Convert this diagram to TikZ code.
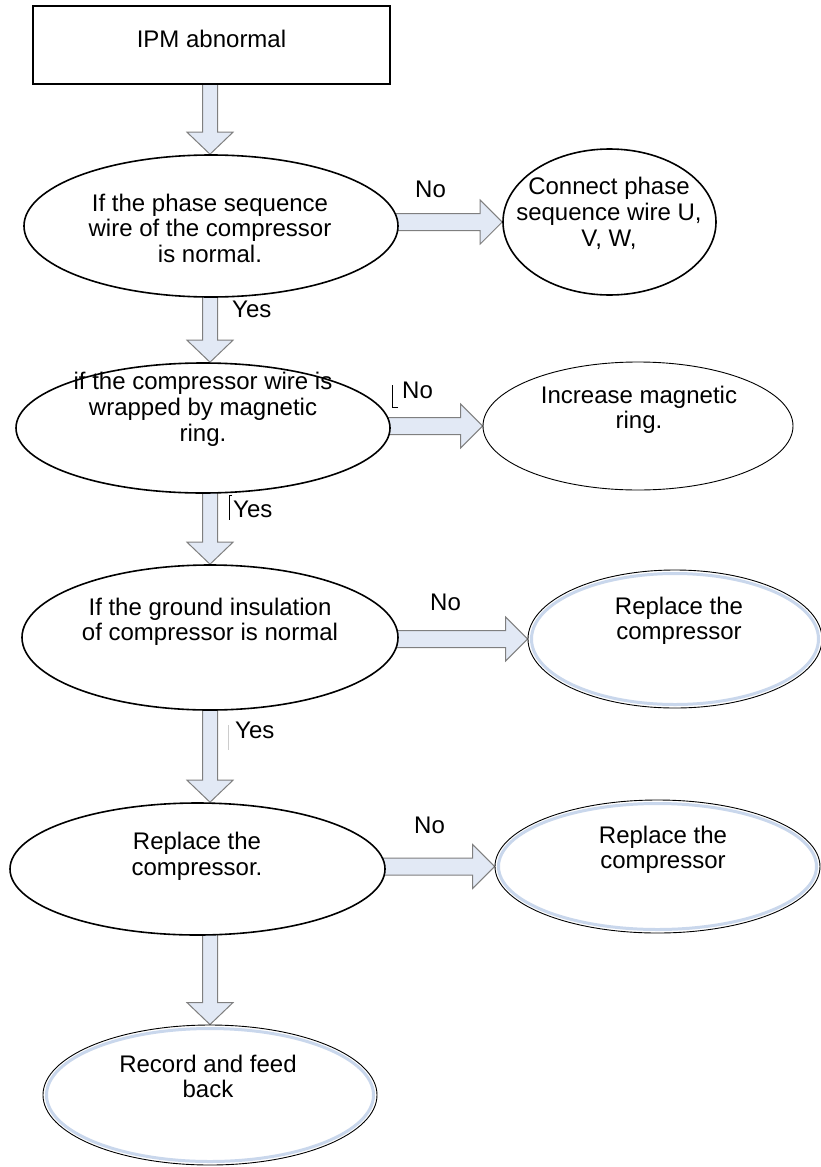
\documentclass[tikz,border=0pt]{standalone}
\usepackage{fontspec}
\setmainfont{Liberation Sans}
\usetikzlibrary{shapes.geometric,calc}
\definecolor{arrowfill}{HTML}{E2E9F5}
\definecolor{arrowline}{HTML}{7F7F7F}
\definecolor{ringblue}{HTML}{C9D7EC}
\pgfdeclarelayer{bg}
\pgfsetlayers{bg,main}
\tikzset{
 ovalthick/.style={ellipse, draw=black, line width=1.6pt, fill=white, inner sep=0pt},
 ovalthin/.style={ellipse, draw=black, line width=0.9pt, fill=white, inner sep=0pt},
 startbox/.style={rectangle, draw=black, line width=1.6pt, fill=white, inner sep=0pt},
 txt/.style={font=\fontsize{24}{25.6}\selectfont, align=center, inner sep=0pt, anchor=base},
 lbl/.style={font=\fontsize{24}{25.6}\selectfont, inner sep=0pt, anchor=base west},
 barrow/.style={draw=arrowline, fill=arrowfill, line width=1pt, line join=miter},
 ring/.style={draw=ringblue, line width=3pt},
 cursor/.style={line width=0.8pt, draw=black},
 faintbar/.style={line width=0.8pt, draw=black!20}
}
% vertical block arrow: x position, source node, target node
\newcommand{\vbarrow}[3]{%
 \begin{pgfonlayer}{bg}
 \path[barrow] let \p1=(#2.south), \p2=(#3.north), \p3=(#1,0) in
  (\x3-7.5pt,\y1+4pt) -- (\x3-7.5pt,\y2+22pt) -- (\x3-23pt,\y2+22pt) -- (\x3,\y2)
  -- (\x3+23pt,\y2+22pt) -- (\x3+7.5pt,\y2+22pt) -- (\x3+7.5pt,\y1+4pt) -- cycle;
 \end{pgfonlayer}}
% horizontal block arrow: source node, target node
\newcommand{\hbarrow}[2]{%
 \begin{pgfonlayer}{bg}
 \path[barrow] let \p1=(#1.east), \p2=(#2.west) in
  (\x1-8pt,\y2+8.5pt) -- (\x2-22pt,\y2+8.5pt) -- (\x2-22pt,\y2+22pt) -- (\x2,\y2)
  -- (\x2-22pt,\y2-22pt) -- (\x2-22pt,\y2-8.5pt) -- (\x1-8pt,\y2-8.5pt) -- cycle;
 \end{pgfonlayer}}
\begin{document}
\begin{tikzpicture}[x=1pt,y=-1pt]
\useasboundingbox (0,0) rectangle (821,1167);

% shapes
\node[startbox, minimum width=357, minimum height=78] (box) at (211.5,45) {};
\node[ovalthick, minimum width=374, minimum height=142] (e1) at (211,226) {};
\node[ovalthick, minimum width=213, minimum height=146] (e2) at (609.5,222) {};
\node[ovalthick, minimum width=374, minimum height=130] (e3) at (203,428) {};
\node[ovalthin, minimum width=310, minimum height=128] (e4) at (638,426) {};
\node[ovalthick, minimum width=376, minimum height=145] (e5) at (210,637.5) {};
\node[ovalthin, minimum width=294, minimum height=138] (e6) at (675,639) {};
\node[ovalthick, minimum width=375, minimum height=132] (e7) at (197.5,869) {};
\node[ovalthin, minimum width=325, minimum height=133] (e8) at (657.5,866.5) {};
\node[ovalthin, minimum width=334, minimum height=140] (e9) at (210,1095) {};

% inner blue rings
\draw[ring] (e6.center) ellipse [x radius=143.5, y radius=65.5];
\draw[ring] (e8.center) ellipse [x radius=159, y radius=63];
\draw[ring] (e9.center) ellipse [x radius=163.5, y radius=66.5];

% texts (anchor = baseline of last line)
\node[txt] (t0) at (211.5,47) {IPM abnormal};
\node[txt] (t1) at (210,262.2) {If the phase sequence\\wire of the compressor\\is normal.};
\node[txt] (t2) at (609,246) {Connect phase\\sequence wire U,\\V, W,};
\node[txt] (t3) at (203,441) {if the compressor wire is\\wrapped by magnetic\\ring.};
\node[txt] (t4) at (639,428.6) {Increase magnetic\\ring.};
\node[txt] (t5) at (210,640.6) {If the ground insulation\\of compressor is normal};
\node[txt] (t6) at (679,639.6) {Replace the\\compressor};
\node[txt] (t7) at (197,875) {Replace the\\compressor.};
\node[txt] (t8) at (663,868.6) {Replace the\\compressor};
\node[txt] (t9) at (208,1097.6) {Record and feed\\back};

% labels
\node[lbl] (n1) at (415,197) {No};
\node[lbl] (y1) at (232,317) {Yes};
\node[lbl] (n2) at (402,398) {No};
\node[lbl] (y2) at (233,517) {Yes};
\node[lbl] (n3) at (430,610) {No};
\node[lbl] (y3) at (235,738) {Yes};
\node[lbl] (n4) at (414,833) {No};

% cursor marks
\draw[cursor] (398,407) -- (392,407) -- (392,385);
\draw[cursor] (232,495) -- (229,495) -- (229,520);
\draw[faintbar] (228,725) -- (228,750);

% block arrows
\vbarrow{210}{box}{e1}
\vbarrow{210}{e1}{e3}
\vbarrow{210}{e3}{e5}
\vbarrow{210}{e5}{e7}
\vbarrow{210}{e7}{e9}
\hbarrow{e1}{e2}
\hbarrow{e3}{e4}
\hbarrow{e5}{e6}
\hbarrow{e7}{e8}
\end{tikzpicture}
\end{document}
